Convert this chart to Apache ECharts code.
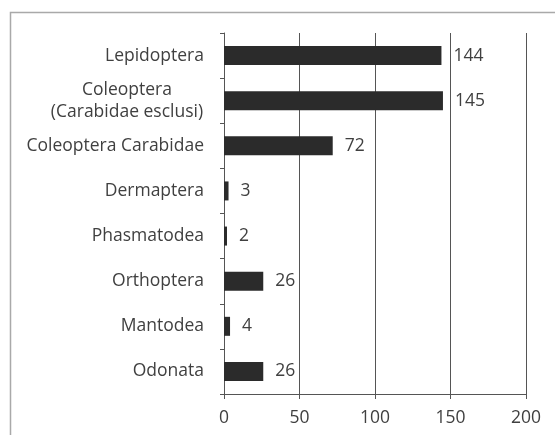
<!DOCTYPE html>
<html>
<head>
<meta charset="utf-8">
<script src="https://cdn.jsdelivr.net/npm/echarts@6/dist/echarts.min.js"></script>
<style>
html, body { margin: 0; padding: 0; background: #fff; }
#main { width: 555px; height: 435px; }
</style>
</head>
<body>
<div id="main"></div>
<script>
var categories = ['Lepidoptera', 'Coleoptera\n(Carabidae esclusi)', 'Coleoptera Carabidae', 'Dermaptera', 'Phasmatodea', 'Orthoptera', 'Mantodea', 'Odonata'];
var counts = [144, 145, 72, 3, 2, 26, 4, 26];
var xTicks = [0, 50, 100, 150, 200];

var myChart = echarts.init(document.getElementById('main'));
var txt = '#404040';
var font = '"Open Sans", "Noto Sans", sans-serif';
var fs = 17.5;

var option = {
	animation: false,
	backgroundColor: '#fff',
	textStyle: { fontFamily: font },
	graphic: [{
		type: 'rect',
		shape: { x: 10.5, y: 12.5, width: 600, height: 600 },
		style: { fill: 'none', stroke: '#a9a9a9', lineWidth: 1.5 },
		silent: true
	}],
	grid: { left: 224, top: 33, right: 29, bottom: 41 },
	xAxis: {
		type: 'value',
		min: xTicks[0],
		max: xTicks[xTicks.length - 1],
		interval: 50,
		axisLine: { show: true, lineStyle: { color: '#555', width: 1 } },
		axisTick: { show: true, length: 5, lineStyle: { color: '#555' } },
		axisLabel: { color: txt, fontSize: fs, fontFamily: font, margin: 15 },
		splitLine: { show: true, lineStyle: { color: '#555', width: 1 } }
	},
	yAxis: {
		type: 'category',
		data: categories,
		inverse: true,
		axisLine: { show: true, lineStyle: { color: '#555', width: 1 } },
		axisTick: { show: true, length: 4, lineStyle: { color: '#555' } },
		axisLabel: {
			color: txt,
			fontSize: fs,
			fontFamily: font,
			margin: 20,
			lineHeight: 22,
			formatter: function (v) {
				if (v.indexOf('\n') >= 0) {
					var p = v.split('\n');
					return '{c|' + p[0] + '}\n{c|' + p[1] + '}';
				}
				return v;
			},
			rich: {
				c: { width: 154, align: 'center', fontSize: fs, color: txt, fontFamily: font, lineHeight: 22 }
			}
		}
	},
	series: [{
		type: 'bar',
		data: counts,
		barWidth: 19,
		itemStyle: { color: '#2b2b2b' },
		label: {
			show: true,
			position: 'right',
			distance: 12,
			color: txt,
			fontSize: fs,
			fontFamily: font
		}
	}]
};
myChart.setOption(option);
</script>
</body>
</html>
